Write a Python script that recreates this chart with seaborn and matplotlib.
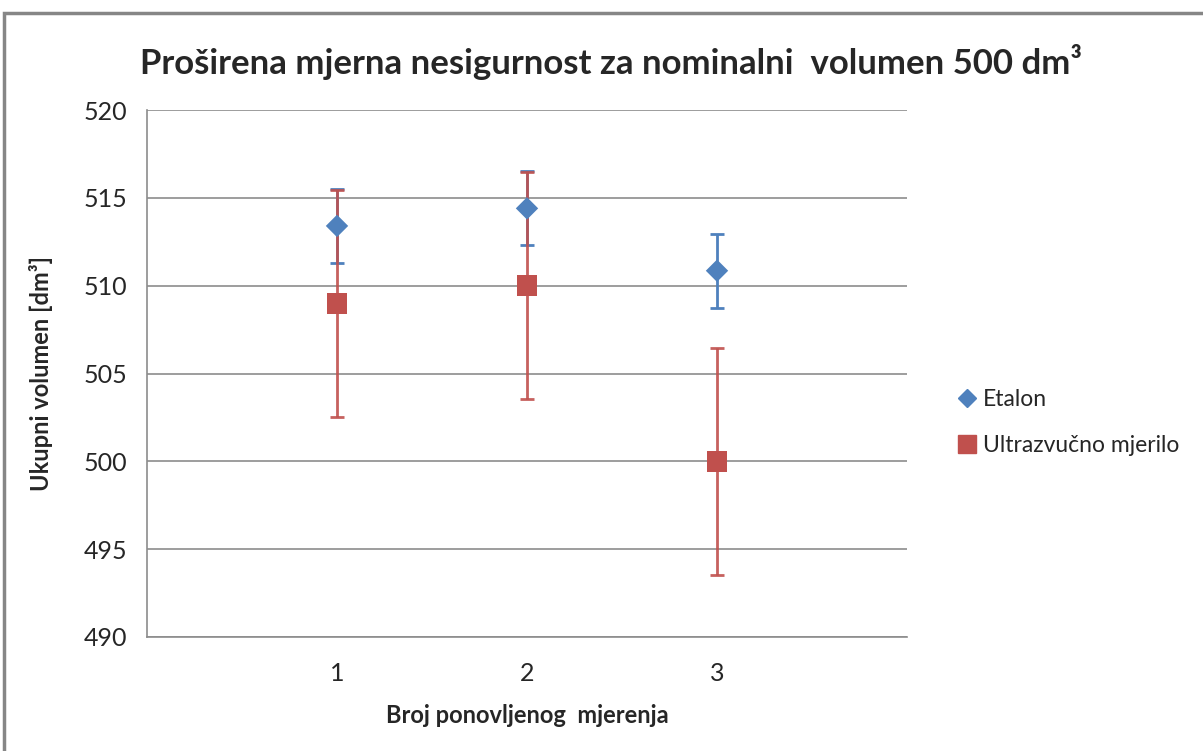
import numpy as np
import pandas as pd
import matplotlib
matplotlib.use("Agg")
import matplotlib.pyplot as plt
import seaborn as sns
from matplotlib.patches import Rectangle
from matplotlib.lines import Line2D

# data
mjerenja = [1, 2, 3]
etalon = [513.4, 514.4, 510.85]
etalon_err = [2.1, 2.1, 2.1]
ultrazvucno = [509.0, 510.0, 500.0]
ultrazvucno_err = [6.45, 6.45, 6.45]

blue = "#4F81BD"
red = "#C0504D"

sns.set_style("white")
plt.rcParams["font.family"] = ["Lato", "DejaVu Sans"]

df = pd.DataFrame({
    "Mjerenje": mjerenja * 2,
    "Volumen": etalon + ultrazvucno,
    "Serija": ["Etalon"] * 3 + ["Ultrazvučno mjerilo"] * 3,
})

fig = plt.figure(figsize=(12.03, 7.51), dpi=100)
ax = fig.add_axes([147 / 1203, 1 - 637 / 751, 760 / 1203, 527 / 751])

# outer chart border
fig.patches.append(Rectangle((4 / 1203, -0.1), 1.2, 1 - 12.5 / 751 + 0.1,
                             transform=fig.transFigure, fill=False,
                             edgecolor="#868686", linewidth=2.5))

ax.errorbar(mjerenja, etalon, yerr=etalon_err, fmt="none", ecolor=blue,
            elinewidth=2, capsize=5, capthick=2, zorder=2)
ax.errorbar(mjerenja, ultrazvucno, yerr=ultrazvucno_err, fmt="none", ecolor=red,
            elinewidth=2, capsize=5, capthick=2, zorder=2, alpha=0.9)

sns.scatterplot(data=df, x="Mjerenje", y="Volumen", hue="Serija", style="Serija",
                markers={"Etalon": "D", "Ultrazvučno mjerilo": "s"},
                palette={"Etalon": blue, "Ultrazvučno mjerilo": red},
                size="Serija", sizes={"Etalon": 130, "Ultrazvučno mjerilo": 220},
                edgecolor="none", ax=ax, zorder=3, legend=False)

ax.set_xlim(0, 4)
ax.set_ylim(490, 520)
ax.set_xticks(mjerenja)
ax.set_yticks(np.arange(490, 521, 5))
ax.yaxis.grid(True, color="#8c8c8c", linewidth=1.2)
ax.set_axisbelow(True)
for s in ["top", "right"]:
    ax.spines[s].set_visible(False)
for s in ["left", "bottom"]:
    ax.spines[s].set_color("#8c8c8c")
    ax.spines[s].set_linewidth(1.2)
ax.tick_params(axis="y", length=7, width=1.2, color="#8c8c8c", labelsize=18, pad=7)
ax.tick_params(axis="x", length=0, labelsize=18, pad=18)

ax.set_xlabel("Broj ponovljenog  mjerenja", fontsize=17, fontweight="bold", labelpad=14)
ax.set_ylabel("Ukupni volumen [dm³]", fontsize=17, fontweight="bold", labelpad=22)
fig.text(0.508, 0.917, "Proširena mjerna nesigurnost za nominalni  volumen 500 dm³",
         ha="center", va="center", fontsize=25, fontweight="bold")

handles = [
    Line2D([], [], linestyle="none", marker="D", color=blue, markersize=9),
    Line2D([], [], linestyle="none", marker="s", color=red, markersize=13),
]
fig.legend(handles, ["Etalon", "Ultrazvučno mjerilo"], loc="center left",
           bbox_to_anchor=(0.775, 0.437), frameon=False, fontsize=16.5,
           handletextpad=0.1, labelspacing=1.1, handlelength=1.2)

fig.savefig("out.png", dpi=100)
